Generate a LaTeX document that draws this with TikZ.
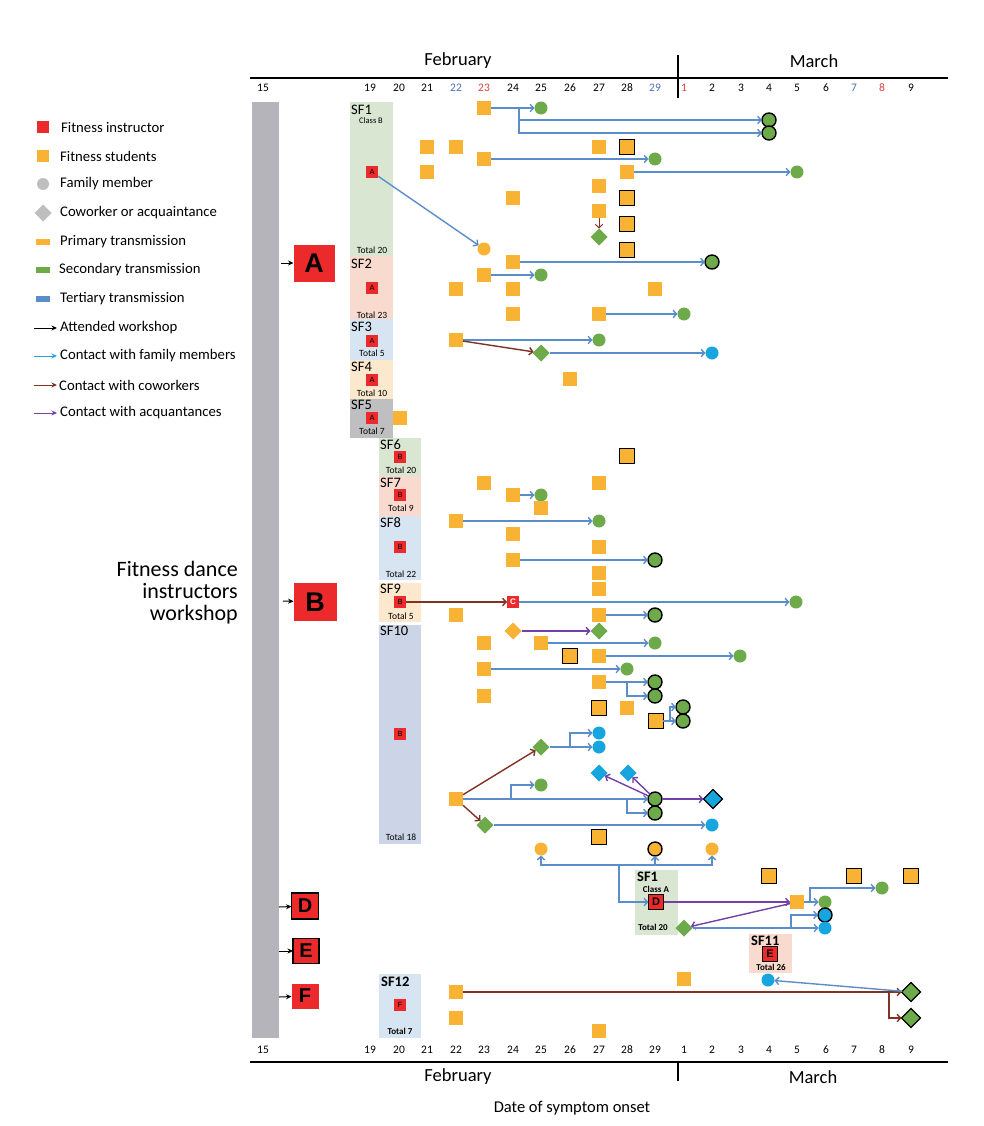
\documentclass[tikz,border=0pt]{standalone}
\usepackage{fontspec}
\setmainfont{Carlito}
\newfontfamily\arialf{Liberation Sans}
\usetikzlibrary{shapes.geometric,arrows.meta}
\definecolor{orng}{HTML}{F8B334}
\definecolor{grn}{HTML}{6DAA4A}
\definecolor{cyn}{HTML}{17A5E0}
\definecolor{redb}{HTML}{EC2A2C}
\definecolor{blu}{HTML}{5B8DCB}
\definecolor{brn}{HTML}{7F3324}
\definecolor{pur}{HTML}{7340A8}
\definecolor{barg}{HTML}{B4B4BA}
\definecolor{sfg}{HTML}{D8E6D2}
\definecolor{sfs}{HTML}{F8DBCE}
\definecolor{sfb}{HTML}{D7E5F2}
\definecolor{sfo}{HTML}{FCE8CD}
\definecolor{sfgr}{HTML}{BFBFC1}
\definecolor{sfv}{HTML}{CCD5E8}
\definecolor{dblue}{HTML}{4A72B8}
\definecolor{dred}{HTML}{E0443A}
\definecolor{legc}{HTML}{2BA3E3}
\definecolor{leggr}{HTML}{BEBEBE}
\tikzset{
 mk/.style={inner sep=0pt, outer sep=0pt},
 sq/.style={mk, fill=orng, minimum size=14pt},
 bsq/.style={mk, fill=orng, draw=black, line width=1.4pt, minimum size=14.5pt},
 gc/.style={mk, circle, fill=grn, minimum size=13pt},
 bgc/.style={mk, circle, fill=grn, draw=black, line width=1.4pt, minimum size=14pt},
 cc/.style={mk, circle, fill=cyn, minimum size=13pt},
 bcc/.style={mk, circle, fill=cyn, draw=black, line width=1.4pt, minimum size=14pt},
 oc/.style={mk, circle, fill=orng, minimum size=13pt},
 boc/.style={mk, circle, fill=orng, draw=black, line width=1.4pt, minimum size=14pt},
 gd/.style={mk, diamond, fill=grn, minimum size=17pt},
 bgd/.style={mk, diamond, fill=grn, draw=black, line width=1.2pt, minimum size=19pt},
 cd/.style={mk, diamond, fill=cyn, minimum size=17pt},
 bcd/.style={mk, diamond, fill=cyn, draw=black, line width=1.2pt, minimum size=19pt},
 od/.style={mk, diamond, fill=orng, minimum size=17pt},
 ins/.style={mk, fill=redb, minimum size=12pt, font=\arialf\fontsize{7.5}{8}\selectfont},
 bins/.style={mk, fill=redb, draw=black, line width=1pt, minimum size=15pt, font=\arialf\bfseries\fontsize{11}{11}\selectfont},
 big/.style={mk, fill=redb, font=\arialf\bfseries\fontsize{27}{27}\selectfont},
 mid/.style={mk, fill=redb, draw=black, line width=1.5pt, font=\arialf\bfseries\fontsize{20}{20}\selectfont},
 ln/.style={line width=1.4pt, -{Straight Barb[length=3.5pt,width=7.5pt]}},
 bl/.style={ln, draw=blu},
 br/.style={ln, draw=brn},
 pu/.style={ln, draw=pur},
 att/.style={line width=1pt, -{Stealth[length=5.5pt,width=5pt]}},
 sfl/.style={font=\fontsize{14.5}{14.5}\selectfont, anchor=west, inner sep=0pt},
 sflb/.style={font=\bfseries\fontsize{14.5}{14.5}\selectfont, anchor=west, inner sep=0pt},
 sm/.style={font=\fontsize{9.5}{10}\selectfont, inner sep=0pt},
 smb/.style={font=\bfseries\fontsize{10}{10}\selectfont, inner sep=0pt},
 day/.style={font=\fontsize{11.5}{12}\selectfont, inner sep=0pt},
 mon/.style={font=\fontsize{18.5}{19}\selectfont, inner sep=0pt},
 leg/.style={font=\fontsize{14.7}{15}\selectfont, anchor=west, inner sep=0pt},
}
\begin{document}
\begin{tikzpicture}[x=1pt,y=-1pt]
\useasboundingbox[fill=white] (0,0) rectangle (984,1126);
% axes
\draw[line width=1.8pt] (250,78) -- (948,78);
\draw[line width=1.8pt] (678,55) -- (678,98);
\draw[line width=1.8pt] (250,1062) -- (948,1062);
\draw[line width=1.8pt] (678,1062) -- (678,1081);
\node[mon] (febt) at (458,61) {February};
\node[mon] (mart) at (814,61) {March};
\node[mon] (febb) at (458,1077) {February};
\node[mon] (marb) at (813,1077) {March};
\node[font=\fontsize{16.5}{17}\selectfont, inner sep=0pt] (xlab) at (572,1108) {Date of symptom onset};
\foreach \x/\l/\c in {263/15/black,370/19/black,399/20/black,427/21/black,456/22/dblue,484/23/dred,513/24/black,541/25/black,570/26/black,599/27/black,627/28/black,655/29/dblue,684/1/dred,712/2/black,741/3/black,769/4/black,797/5/black,826/6/black,854/7/dblue,882/8/dred,911/9/black}{
  \node[day, text=\c] (dt\l) at (\x,88) {\l};
  \node[day] (db\l) at (\x,1050) {\l};
}
% legend
\node[mk, fill=redb, minimum size=12pt] (l1) at (43,127) {};
\node[leg] (lt1) at (61,127) {Fitness instructor};
\node[mk, fill=orng, minimum size=12pt] (l2) at (43,156) {};
\node[leg] (lt2) at (60,156) {Fitness students};
\node[mk, circle, fill=leggr, minimum size=12pt] (l3) at (43,184) {};
\node[leg] (lt3) at (60,184) {Family member};
\node[mk, diamond, fill=leggr, minimum size=17pt] (l4) at (43,213) {};
\node[leg] (lt4) at (60,213) {Coworker or acquaintance};
\node[mk, fill=orng, minimum width=14pt, minimum height=6pt] (l5) at (43,242) {};
\node[leg] (lt5) at (60,242) {Primary transmission};
\node[mk, fill=grn, minimum width=14pt, minimum height=6pt] (l6) at (43,270) {};
\node[leg] (lt6) at (59,270) {Secondary transmission};
\node[mk, fill=blu, minimum width=14pt, minimum height=6pt] (l7) at (43,299) {};
\node[leg] (lt7) at (60,299) {Tertiary transmission};
\coordinate (la8) at (34,328); \coordinate (lb8) at (57,328);
\draw[att, draw=black] (la8) -- (lb8);
\node[leg] (lt8) at (60,328) {Attended workshop};
\coordinate (la9) at (34,356); \coordinate (lb9) at (57,356);
\draw[att, draw=legc] (la9) -- (lb9);
\node[leg] (lt9) at (60,356) {Contact with family members};
\coordinate (la10) at (34,385); \coordinate (lb10) at (57,385);
\draw[att, draw=brn] (la10) -- (lb10);
\node[leg] (lt10) at (59,385) {Contact with coworkers};
\coordinate (la11) at (34,413); \coordinate (lb11) at (57,413);
\draw[att, draw=pur] (la11) -- (lb11);
\node[leg] (lt11) at (60,413) {Contact with acquantances};
% workshop label and bar
\node[font=\fontsize{22}{22}\selectfont, align=right, inner sep=0pt, anchor=east] (ws) at (238,593) {Fitness dance\\instructors\\workshop};
\fill[barg] (252,102) rectangle (279,1038);
\node[big, minimum width=41pt, minimum height=37pt] (bigA) at (314,263) {A};
\node[big, minimum width=43pt, minimum height=38pt] (bigB) at (315,602) {B};
\node[mid, minimum width=27pt, minimum height=26pt] (bigD) at (305,906) {D};
\node[mid, minimum width=26pt, minimum height=25pt] (bigE) at (306,951) {E};
\node[mid, draw=none, minimum width=27pt, minimum height=25pt] (bigF) at (305,996) {F};
\coordinate (aA) at (281,263); \draw[att] (aA) -- (bigA);
\coordinate (aB) at (283,601); \draw[att] (aB) -- (bigB);
\coordinate (aD) at (279,907); \draw[att] (aD) -- (bigD);
\coordinate (aE) at (279,951); \draw[att] (aE) -- (bigE);
\coordinate (aF) at (279,997); \draw[att] (aF) -- (bigF);
% SF backgrounds
\fill[sfg] (350,102) rectangle (393,256);
\fill[sfs] (350,256) rectangle (393,319);
\fill[sfb] (350,319) rectangle (393,360);
\fill[sfo] (350,360) rectangle (393,399);
\fill[sfgr] (350,399) rectangle (393,438);
\fill[sfg] (379,438) rectangle (421,476);
\fill[sfs] (379,476) rectangle (421,516);
\fill[sfb] (379,516) rectangle (421,580);
\fill[sfo] (379,583) rectangle (421,622);
\fill[sfv] (379,625) rectangle (421,844);
\fill[sfg] (635,870) rectangle (678,935);
\fill[sfs] (749,934) rectangle (792,973);
\fill[sfb] (379,974) rectangle (421,1038);
% SF texts
\node[sfl] (sf1) at (351,110) {SF1};
\node[sm, font=\fontsize{8.5}{9}\selectfont] (cl1) at (371,121) {Class B};
\node[ins] (iA1) at (372,172) {A};
\node[sm] (tot1) at (372,250) {Total 20};
\node[sfl] (sf2) at (351,264) {SF2};
\node[ins] (iA2) at (372,288) {A};
\node[sm] (tot2) at (372,315) {Total 23};
\node[sfl] (sf3) at (351,327) {SF3};
\node[ins] (iA3) at (372,341) {A};
\node[sm] (tot3) at (372,353) {Total 5};
\node[sfl] (sf4) at (351,367) {SF4};
\node[ins] (iA4) at (372,380) {A};
\node[sm] (tot4) at (372,393) {Total 10};
\node[sfl] (sf5) at (351,405) {SF5};
\node[ins] (iA5) at (372,418) {A};
\node[sm] (tot5) at (372,431) {Total 7};
\node[sfl] (sf6) at (380,445) {SF6};
\node[ins] (iB6) at (400,457) {B};
\node[sm] (tot6) at (401,470) {Total 20};
\node[sfl] (sf7) at (380,483) {SF7};
\node[ins] (iB7) at (400,495) {B};
\node[sm] (tot7) at (401,508) {Total 9};
\node[sfl] (sf8) at (380,523) {SF8};
\node[ins] (iB8) at (400,547) {B};
\node[sm] (tot8) at (401,574) {Total 22};
\node[sfl] (sf9) at (380,589) {SF9};
\node[ins] (iB9) at (400,602) {B};
\node[sm] (tot9) at (401,616) {Total 5};
\node[sfl] (sf10) at (380,631) {SF10};
\node[ins] (iB10) at (400,734) {B};
\node[sm] (tot10) at (401,837) {Total 18};
\node[sflb] (sf1b) at (637,877) {SF1};
\node[smb, font=\bfseries\fontsize{9}{9}\selectfont] (cla) at (656,889) {Class A};
\node[bins] (iD) at (656,902) {D};
\node[smb, font=\bfseries\fontsize{9}{9}\selectfont] (tota) at (653,927) {Total 20};
\node[sflb] (sf11) at (751,941) {SF11};
\node[bins] (iE) at (770,954) {E};
\node[smb, font=\bfseries\fontsize{9}{9}\selectfont] (tot11) at (771,967) {Total 26};
\node[sflb] (sf12) at (381,982) {SF12};
\node[ins] (iF) at (400,1005) {F};
\node[smb, font=\bfseries\fontsize{9}{9}\selectfont] (tot12) at (400,1031) {Total 7};
% markers top
\node[sq] (s1) at (484,108) {};
\node[gc] (g1) at (541,108) {};
\node[bgc] (g2) at (769,120) {};
\node[bgc] (g3) at (769,133) {};
\node[sq] (s2) at (427,147) {};
\node[sq] (s3) at (456,147) {};
\node[sq] (s4) at (599,147) {};
\node[bsq] (b1) at (627,147) {};
\node[sq] (s5) at (484,159) {};
\node[gc] (g4) at (655,159) {};
\node[sq] (s6) at (427,172) {};
\node[sq] (s7) at (627,172) {};
\node[gc] (g5) at (797,172) {};
\node[sq] (s8) at (599,186) {};
\node[sq] (s9) at (513,198) {};
\node[bsq] (b2) at (627,198) {};
\node[sq] (s10) at (599,211) {};
\node[bsq] (b3) at (627,224) {};
\node[gd] (d1) at (599,237) {};
\node[oc] (o1) at (484,249) {};
\node[bsq] (b4) at (627,250) {};
\node[sq] (s11) at (513,262) {};
\node[bgc] (g6) at (712,262) {};
\node[sq] (s12) at (484,275) {};
\node[gc] (g7) at (541,275) {};
\node[sq] (s13) at (456,289) {};
\node[sq] (s14) at (513,289) {};
\node[sq] (s15) at (655,289) {};
\node[sq] (s16) at (513,314) {};
\node[sq] (s17) at (599,314) {};
\node[gc] (g8) at (684,314) {};
\node[sq] (s18) at (456,340) {};
\node[gc] (g9) at (599,340) {};
\node[gd] (d2) at (541,353) {};
\node[cc] (c1) at (712,353) {};
\node[sq] (s19) at (570,379) {};
\node[sq] (s20) at (400,418) {};
% markers middle
\node[bsq] (b5) at (627,456) {};
\node[sq] (s21) at (484,483) {};
\node[sq] (s22) at (599,483) {};
\node[sq] (s23) at (513,495) {};
\node[gc] (g10) at (541,495) {};
\node[sq] (s24) at (541,508) {};
\node[sq] (s25) at (456,521) {};
\node[gc] (g11) at (599,521) {};
\node[sq] (s26) at (513,534) {};
\node[sq] (s27) at (599,547) {};
\node[sq] (s28) at (513,560) {};
\node[bgc] (g12) at (655,560) {};
\node[sq] (s29) at (599,573) {};
\node[sq] (s30) at (599,589) {};
\node[ins, text=white, font=\arialf\bfseries\fontsize{8}{8}\selectfont] (iC) at (513,602) {C};
\node[gc] (g13) at (796,602) {};
\node[sq] (s31) at (456,615) {};
\node[sq] (s32) at (599,615) {};
\node[bgc] (g14) at (655,615) {};
\node[od] (d3) at (513,631) {};
\node[gd] (d4) at (599,631) {};
\node[sq] (s33) at (484,643) {};
\node[sq] (s34) at (541,643) {};
\node[gc] (g15) at (655,643) {};
\node[bsq] (b6) at (570,656) {};
\node[sq] (s35) at (599,656) {};
\node[gc] (g16) at (740,656) {};
\node[sq] (s36) at (484,669) {};
\node[gc] (g17) at (627,669) {};
\node[sq] (s37) at (599,682) {};
\node[bgc] (g18) at (655,682) {};
\node[bgc] (g19) at (655,696) {};
\node[sq] (s38) at (484,696) {};
\node[bsq] (b7) at (599,708) {};
\node[sq] (s39) at (627,708) {};
\node[bsq] (b8) at (656,721) {};
\node[bgc] (g20) at (683,707) {};
\node[bgc] (g21) at (683,721) {};
\node[cc] (c2) at (599,733) {};
\node[cc] (c3) at (599,747) {};
\node[gd] (d5) at (541,747) {};
\node[cd] (d6) at (599,773) {};
\node[cd] (d7) at (628,773) {};
\node[sq] (s40) at (456,799) {};
\node[gc] (g22) at (541,785) {};
\node[bgc] (g23) at (655,799) {};
\node[bgc] (g24) at (655,813) {};
\node[bcd] (d8) at (713,799) {};
\node[gd] (d9) at (485,825) {};
\node[cc] (c4) at (712,825) {};
\node[bsq] (b9) at (599,837) {};
\node[oc] (o2) at (541,849) {};
\node[boc] (o3) at (655,849) {};
\node[oc] (o4) at (712,849) {};
% markers bottom
\node[bsq] (b10) at (769,876) {};
\node[bsq] (b11) at (854,876) {};
\node[bsq] (b12) at (911,876) {};
\node[sq] (s41) at (797,902) {};
\node[gc] (g25) at (825,902) {};
\node[gc] (g26) at (882,888) {};
\node[gd] (d10) at (684,928) {};
\node[bcc] (c5) at (825,915) {};
\node[cc] (c6) at (825,928) {};
\node[sq] (s42) at (684,979) {};
\node[cc] (c7) at (768,980) {};
\node[sq] (s43) at (456,992) {};
\node[bgd] (d11) at (911,992) {};
\node[bgd] (d12) at (911,1018) {};
\node[sq] (s44) at (456,1018) {};
\node[sq] (s45) at (599,1031) {};
% junctions
\coordinate (j1) at (519,108);
\coordinate (j2) at (627,682);
\coordinate (j3) at (670,721);
\coordinate (j4) at (570,747);
\coordinate (j5) at (511,799);
\coordinate (j6) at (627,799);
\coordinate (j7) at (619,865);
\coordinate (j8) at (810,902);
\coordinate (j9) at (791,928);
\coordinate (j10) at (889,992);
% connectors top
\draw[bl] (s1) -- (g1);
\draw[bl] (j1) |- (g2);
\draw[bl] (j1) |- (g3);
\draw[bl] (s5) -- (g4);
\draw[bl] (s7) -- (g5);
\draw[br, line width=1pt] (s10) -- (d1);
\draw[bl] (iA1) -- (o1);
\draw[bl] (s11) -- (g6);
\draw[bl] (s12) -- (g7);
\draw[bl] (s17) -- (g8);
\draw[bl] (s18) -- (g9);
\draw[br] (s18) -- (d2);
\draw[bl] (d2) -- (c1);
% connectors middle
\draw[bl] (s23) -- (g10);
\draw[bl] (s25) -- (g11);
\draw[bl] (s28) -- (g12);
\draw[br] (iB9) -- (iC);
\draw[bl] (iC) -- (g13);
\draw[bl] (s32) -- (g14);
\draw[pu] (d3) -- (d4);
\draw[bl] (s34) -- (g15);
\draw[bl] (s35) -- (g16);
\draw[bl] (s36) -- (g17);
\draw[bl] (s37) -- (g18);
\draw[bl] (j2) |- (g19);
\draw[bl] (b8) -- (g21);
\draw[bl] (j3) |- (g20);
\draw[bl] (d5) -- (c3);
\draw[bl] (j4) |- (c2);
\draw[br] (s40) -- (d5);
\draw[bl] (s40) -- (g23);
\draw[bl] (j5) |- (g22);
\draw[bl] (j6) |- (g24);
\draw[pu] (g23) -- (d6);
\draw[pu] (g23) -- (d7);
\draw[pu] (g23) -- (d8);
\draw[br] (s40) -- (d9);
\draw[bl] (d9) -- (c4);
% connectors bottom
\draw[bl] (j7) -| (o2);
\draw[bl] (j7) -| (o3);
\draw[bl] (j7) -| (o4);
\draw[bl] (j7) |- (iD);
\draw[pu] (iD) -- (s41);
\draw[bl] (s41) -- (g25);
\draw[bl] (j8) |- (g26);
\draw[pu] (s41) -- (d10);
\draw[bl] (d10) -- (c6);
\draw[bl] (j9) |- (c5);
\draw[br] (s43) -- (d11);
\draw[br] (j10) |- (d12);
\draw[bl] (d11) -- (c7);
\end{tikzpicture}
\end{document}
